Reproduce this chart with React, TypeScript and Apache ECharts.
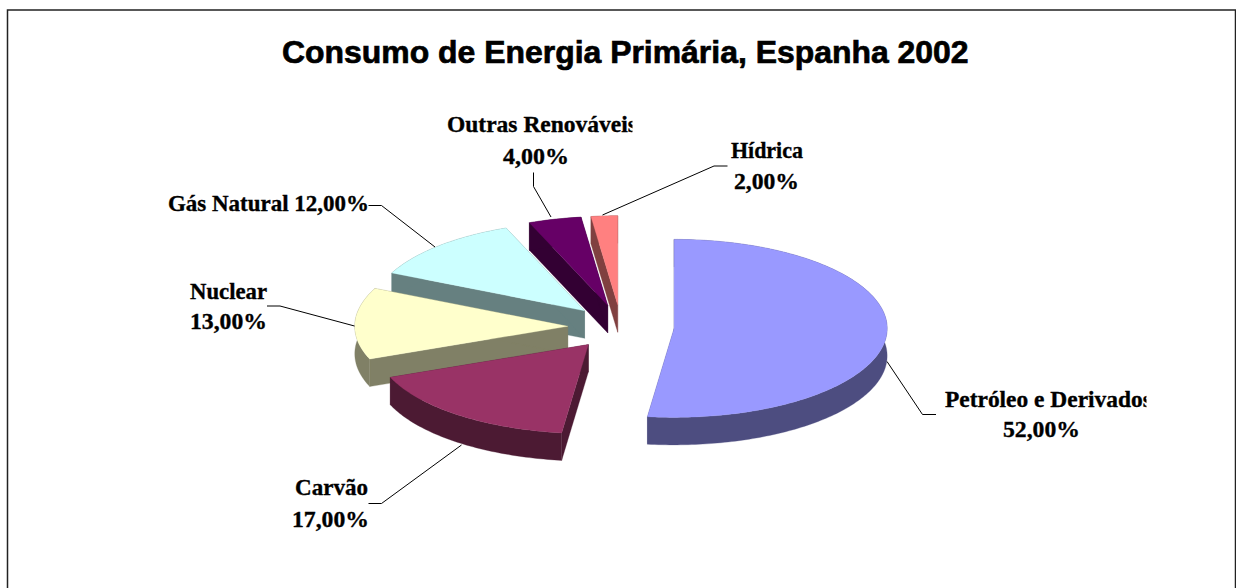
import React, { useEffect, useRef } from "react";
import * as echarts from "echarts";

const titleText = "Consumo de Energia Primária, Espanha 2002";
const names = ["Petróleo e Derivados", "Carvão", "Nuclear", "Gás Natural", "Outras Renováveis", "Hídrica"];
const values = [52, 17, 13, 12, 4, 2];
const topColors = ["#9999FF", "#993366", "#FFFFCC", "#CCFFFF", "#660066", "#FF8080"];
const sideColors = ["#4D4D80", "#4C1A33", "#808066", "#668080", "#330033", "#804040"];
const drawOrder = [0, 5, 4, 3, 2, 1];

// pie geometry (pixels)
const CX = 621, CY = 327, RX = 213, RY = 89, DEPTH = 27.5, EXPLODE = 0.25;

const pct = (v: number) => v.toFixed(2).replace(".", ",") + "%";

const total = values.reduce((a, b) => a + b, 0);
const starts: number[] = [];
values.reduce((acc, v, i) => { starts[i] = (acc / total) * 360; return acc + v; }, 0);

const rim = (ax: number, ay: number, deg: number, dz = 0): [number, number] => {
  const r = (deg * Math.PI) / 180;
  return [ax + RX * Math.sin(r), ay - RY * Math.cos(r) + dz];
};

function renderSlice(params: any) {
  const i = drawOrder[params.dataIndex];
  const a0 = starts[i];
  const a1 = a0 + (values[i] / total) * 360;
  const mid = (a0 + a1) / 2;
  const m = (mid * Math.PI) / 180;
  const ax = CX + EXPLODE * RX * Math.sin(m);
  const ay = CY - EXPLODE * RY * Math.cos(m);

  const arcTop: [number, number][] = [];
  const arcBot: [number, number][] = [];
  const steps = Math.max(4, Math.ceil(a1 - a0));
  for (let k = 0; k <= steps; k++) {
    const d = a0 + ((a1 - a0) * k) / steps;
    arcTop.push(rim(ax, ay, d));
    arcBot.push(rim(ax, ay, d, DEPTH));
  }
  const apex: [number, number] = [ax, ay];
  const apexB: [number, number] = [ax, ay + DEPTH];
  const side = sideColors[i];
  const face = (points: [number, number][], fill: string) => ({
    type: "polygon",
    shape: { points },
    style: { fill, stroke: fill, lineWidth: 0.3 },
  });
  return {
    type: "group",
    children: [
      face([apex, arcTop[0], arcBot[0], apexB], side),
      face([apex, arcTop[steps], arcBot[steps], apexB], side),
      face([...arcTop, ...[...arcBot].reverse()], side),
      face([apex, ...arcTop], topColors[i]),
    ],
  };
}

const measure = document.createElement("canvas").getContext("2d")!;
function fitText(text: string, x: number, baseline: number, width: number, size: number, family: string, weight = 0.35) {
  const font = `bold ${size}px ${family}`;
  measure.font = font;
  const w = measure.measureText(text).width;
  return {
    type: "text",
    x,
    y: baseline - size * 0.33,
    scaleX: width / w,
    z: 10,
    style: { text, font, fill: "#000", stroke: "#000", lineWidth: weight, textAlign: "left", textVerticalAlign: "middle" },
  };
}

const SERIF = "'Liberation Serif'";
const leader = (points: number[][]) => ({
  type: "polyline",
  z: 9,
  shape: { points },
  style: { stroke: "#000", lineWidth: 1, fill: "none" },
});
const mask = (x: number, y: number, width: number, height: number) => ({
  type: "rect",
  z: 11,
  shape: { x, y, width, height },
  style: { fill: "#fff" },
});

export default function App() {
  const ref = useRef<HTMLDivElement>(null);
  useEffect(() => {
    const chart = echarts.init(ref.current!, null, { renderer: "svg" });
    chart.setOption({
      animation: false,
      backgroundColor: "#fff",
      graphic: [
        {
          type: "rect",
          shape: { x: 7.5, y: 10, width: 1228, height: 620 },
          style: { fill: "none", stroke: "#222", lineWidth: 1.5 },
        },
        fitText(titleText, 282, 63, 687, 32, "'Liberation Sans'", 0.7),
        fitText(names[4], 447, 132, 190, 23, SERIF),
        mask(632.5, 110, 12, 30),
        fitText(pct(values[4]), 503, 164, 66, 23, SERIF),
        fitText(names[5], 731, 158, 72, 23, SERIF),
        fitText(pct(values[5]), 734, 189, 65, 23, SERIF),
        fitText(`${names[3]} ${pct(values[3])}`, 168, 211, 201, 23, SERIF),
        fitText(names[2], 190, 299, 77, 23, SERIF),
        fitText(pct(values[2]), 190, 329, 77, 23, SERIF),
        fitText(names[1], 295, 495, 73, 23, SERIF),
        fitText(pct(values[1]), 292, 527, 77, 23, SERIF),
        fitText(names[0], 945, 407, 207, 23, SERIF),
        mask(1146.5, 385, 12, 30),
        fitText(pct(values[0]), 1003, 437, 77, 23, SERIF),
        leader([[533.5, 172.5], [533.5, 186.5], [551, 217]]),
        leader([[727.5, 166], [714, 166], [602.5, 215]]),
        leader([[368.5, 205.5], [381.5, 205.5], [435, 247]]),
        leader([[267, 306], [280, 306], [354.5, 326]]),
        leader([[368.5, 503.5], [381.5, 503.5], [461.5, 445]]),
        leader([[936, 414.5], [922.5, 414.5], [887, 361.5]]),
      ],
      series: [
        {
          type: "custom",
          coordinateSystem: "none",
          silent: true,
          clip: false,
          data: drawOrder.map((i) => ({ name: names[i], value: values[i] })),
          renderItem: renderSlice,
        },
      ],
    });
    return () => chart.dispose();
  }, []);
  return <div ref={ref} style={{ position: "absolute", left: 0, top: 0, width: 1236, height: 588 }} />;
}
